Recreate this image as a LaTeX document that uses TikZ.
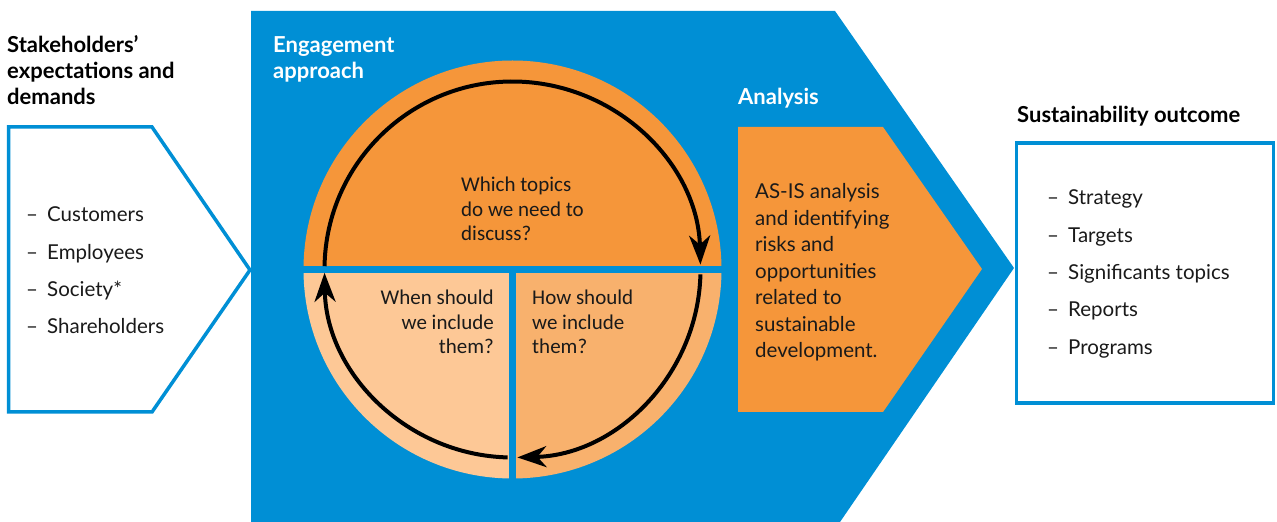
\documentclass[tikz,border=0pt]{standalone}
\usepackage{fontspec}
\setmainfont{Lato}
\newfontfamily\qfont{Carlito}
\usetikzlibrary{arrows.meta}

\definecolor{eblue}{HTML}{008FD5}
\definecolor{eorange}{HTML}{F5963A}
\definecolor{epeach}{HTML}{F8B16D}
\definecolor{elight}{HTML}{FDC896}
\definecolor{etext}{HTML}{1A1A1A}

\newcommand\dashitem[1]{\makebox[21pt][l]{–}#1}

\begin{document}
\begin{tikzpicture}[x=1pt, y=1pt,
    head/.style={anchor=base west, inner sep=0pt, font=\fontsize{22}{26}\selectfont\bfseries},
    itemlist/.style={anchor=base west, inner sep=0pt, text=etext, font=\fontsize{20.5}{37.3}\selectfont},
    question/.style={anchor=base west, inner sep=0pt, text=etext, font=\qfont\fontsize{21}{24.3}\selectfont},
    frame/.style={draw=eblue, line width=3.5pt, fill=white},
    cycarrow/.style={-{Stealth[length=29pt, width=21pt, inset=9pt]}, line width=4pt, black}
]
\useasboundingbox (0,0) rectangle (1277,522);

% big blue arrow (engagement + analysis)
\fill[eblue] (251,511) -- (835,511) -- (1014,254) -- (840,0) -- (251,0) -- cycle;

% stakeholders (left)
\draw[frame] (8.5,395) -- (152,395) -- (250,252) -- (152,110) -- (8.5,110) -- cycle;
\node[head] (stake) at (7,469) {\begin{tabular}[t]{@{}l@{}}Stakeholders’\\expectations and\\demands\end{tabular}};
\node[itemlist] (stakelist) at (26,300)
    {\begin{tabular}[t]{@{}l@{}}\dashitem{Customers}\\\dashitem{Employees}\\\dashitem{Society*}\\\dashitem{Shareholders}\end{tabular}};

% engagement approach circle
\coordinate (mid) at (512.5,252.5);
\node[head, text=white] (engage) at (273,469) {\begin{tabular}[t]{@{}l@{}}Engagement\\approach\end{tabular}};
\fill[eorange] (mid) -- ++(0:209) arc[start angle=0, end angle=180, radius=209] -- cycle;
\fill[epeach] (mid) -- ++(0:209) arc[start angle=0, end angle=-90, radius=209] -- cycle;
\fill[elight] (mid) -- ++(-90:209) arc[start angle=-90, end angle=-180, radius=209] -- cycle;
\draw[eblue, line width=6.5pt] ([xshift=-210pt]mid) -- ([xshift=210pt]mid);
\draw[eblue, line width=6.5pt] (mid) -- ([yshift=-211pt]mid);

\node[question] (topics) at (461,330) {\begin{tabular}[t]{@{}l@{}}Which topics\\do we need to\\discuss?\end{tabular}};
\node[question, anchor=base east] (when) at (494,217) {\begin{tabular}[t]{@{}r@{}}When should\\we include\\them?\end{tabular}};
\node[question] (how) at (532,217) {\begin{tabular}[t]{@{}l@{}}How should\\we include\\them?\end{tabular}};

% cycle arrows
\draw[cycarrow] ([shift={(179:188)}]mid) arc[start angle=179, end angle=1.5, radius=188];
\draw[cycarrow] ([shift={(-1.5:188)}]mid) arc[start angle=-1.5, end angle=-88.5, radius=188];
\draw[cycarrow] ([shift={(-91.5:188)}]mid) arc[start angle=-91.5, end angle=-179, radius=188];

% analysis
\node[head, text=white] (analysis) at (738,417) {Analysis};
\fill[eorange] (738,395) -- (883,395) -- (982,253) -- (883,110) -- (738,110) -- cycle;
\node[anchor=base west, inner sep=0pt, text=etext, font=\fontsize{20.5}{26.5}\selectfont] (asis) at (755,323)
    {\begin{tabular}[t]{@{}l@{}}AS-IS analysis\\and identifying\\risks and\\opportunities\\related to\\sustainable\\development.\end{tabular}};

% sustainability outcome (right)
\node[head] (outcome) at (1017,399) {Sustainability outcome};
\draw[frame] (1016.5,379) rectangle (1273.5,119);
\node[itemlist] (outlist) at (1047,317)
    {\begin{tabular}[t]{@{}l@{}}\dashitem{Strategy}\\\dashitem{Targets}\\\dashitem{Significants topics}\\\dashitem{Reports}\\\dashitem{Programs}\end{tabular}};

\end{tikzpicture}
\end{document}
